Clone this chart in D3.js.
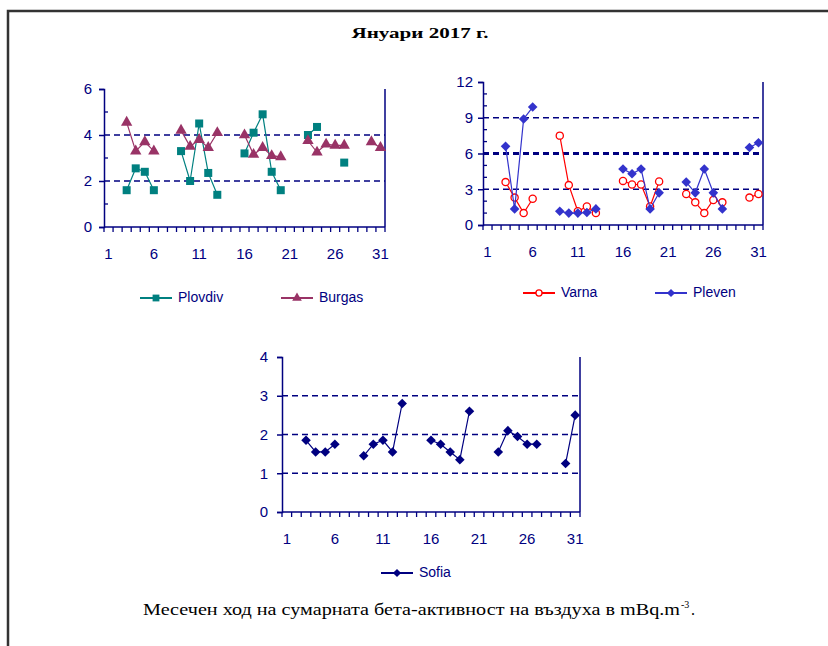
<!DOCTYPE html>
<html><head><meta charset="utf-8">
<script src="https://cdn.jsdelivr.net/npm/d3@7"></script>
<style>body{margin:0;background:#fff}svg{display:block}</style>
</head><body>
<script>
const days = [1,2,3,4,5,6,7,8,9,10,11,12,13,14,15,16,17,18,19,20,21,22,23,24,25,26,27,28,29,30,31];
const xTickLabels = ["1","6","11","16","21","26","31"];
const plovdiv = [null,null,1.6,2.55,2.4,1.6,null,null,3.3,2.0,4.5,2.35,1.4,null,null,3.2,4.1,4.9,2.4,1.6,null,null,4.0,4.35,null,null,2.8,null,null,null,null];
const burgas  = [null,null,4.55,3.3,3.7,3.3,null,null,4.2,3.5,3.8,3.45,4.1,null,null,4.0,3.15,3.45,3.1,3.05,null,null,3.75,3.25,3.6,3.55,3.55,null,null,3.7,3.45];
const varna   = [null,null,3.6,2.3,1.0,2.2,null,null,7.5,3.35,1.15,1.55,1.0,null,null,3.7,3.4,3.4,1.55,3.65,null,null,2.6,1.9,1.0,2.1,1.9,null,null,2.3,2.6];
const pleven  = [null,null,6.6,1.35,8.9,9.9,null,null,1.15,1.0,1.0,1.05,1.35,null,null,4.7,4.3,4.7,1.35,2.7,null,null,3.6,2.7,4.7,2.7,1.35,null,null,6.5,6.9];
const sofia   = [null,null,1.85,1.55,1.55,1.75,null,null,1.45,1.75,1.85,1.55,2.8,null,null,1.85,1.75,1.55,1.35,2.6,null,null,1.55,2.1,1.95,1.75,1.75,null,null,1.25,2.5];
const yTicks1 = [0,2,4,6];
const yTicks2 = [0,3,6,9,12];
const yTicks3 = [0,1,2,3,4];
const titleText = "Януари 2017 г.";
const captionText = "Месечен ход на сумарната бета-активност на въздуха в mBq.m";

const W = 828, H = 646;
const NAVY = "#000080";
const svg = d3.select("body").append("svg").attr("width", W).attr("height", H);

// frame
svg.append("path").attr("d", `M8,${H} L8,11 L${W},11`).attr("fill","none").attr("stroke","#333").attr("stroke-width",2.5);

svg.append("text").attr("x", 420).attr("y", 38).attr("text-anchor","middle")
  .attr("font-family","'Liberation Serif','Times New Roman',serif").attr("font-weight","bold").attr("font-size",15)
  .attr("textLength",137).attr("lengthAdjust","spacingAndGlyphs").text(titleText);

function marker(g, type, x, y, color, small) {
  const s = small ? 0.85 : 1;
  if (type === "square") {
    g.append("rect").attr("x", x-4*s).attr("y", y-4*s).attr("width",8*s).attr("height",8*s).attr("fill",color);
  } else if (type === "triangle") {
    g.append("path").attr("d", d3.symbol().type(d3.symbolTriangle).size(56*s*s)()).attr("transform",`translate(${x},${y})`).attr("fill",color);
  } else if (type === "circle") {
    g.append("circle").attr("cx",x).attr("cy",y).attr("r",3.6*s).attr("fill","#fff").attr("stroke",color).attr("stroke-width",1.3);
  } else if (type === "diamond") {
    const r = 4.8*s;
    g.append("path").attr("d", `M${x},${y-r}L${x+r},${y}L${x},${y+r}L${x-r},${y}Z`).attr("fill",color);
  }
}

function panel(cfg) {
  const g = svg.append("g");
  const x = d3.scaleBand().domain(days).range([cfg.x0, cfg.x1]).padding(0);
  const y = d3.scaleLinear().domain([0, cfg.yMax]).range([cfg.yb, cfg.yt]);
  const cx = d => x(d) + x.bandwidth()/2;

  cfg.grid.forEach(v => {
    g.append("line").attr("x1",cfg.x0).attr("x2",cfg.x1).attr("y1",y(v)).attr("y2",y(v))
      .attr("stroke",NAVY).attr("stroke-width", cfg.boldGrid === v ? 3 : 1.4).attr("stroke-dasharray","6,4");
  });
  g.append("line").attr("x1",cfg.x1).attr("x2",cfg.x1).attr("y1",cfg.yt).attr("y2",cfg.yb).attr("stroke",NAVY).attr("stroke-width",1.5);

  const ya = d3.axisLeft(y).tickValues(cfg.yTicks).tickSize(5).tickFormat(d3.format("d"));
  const yg = g.append("g").attr("transform",`translate(${cfg.x0},0)`).call(ya);
  yg.select(".domain").attr("stroke",NAVY).attr("stroke-width",1.5);
  yg.selectAll(".tick line").attr("stroke",NAVY).attr("stroke-width",1.5);
  yg.selectAll(".tick text").attr("fill",NAVY).attr("font-family","'Liberation Sans',Arial,sans-serif").attr("font-size",15)
    .attr("x", -cfg.yLabOff);
  if (cfg.minor) {
    cfg.minor.forEach(v => g.append("line").attr("x1",cfg.x0).attr("x2",cfg.x0+4).attr("y1",y(v)).attr("y2",y(v)).attr("stroke",NAVY).attr("stroke-width",1.3));
  }

  g.append("line").attr("x1",cfg.x0).attr("x2",cfg.x1).attr("y1",cfg.yb).attr("y2",cfg.yb).attr("stroke",NAVY).attr("stroke-width",1.5);
  days.forEach(d => {
    g.append("line").attr("x1",x(d)).attr("x2",x(d)).attr("y1",cfg.yb).attr("y2",cfg.yb+5).attr("stroke",NAVY).attr("stroke-width",1.3);
  });
  g.append("line").attr("x1",cfg.x1).attr("x2",cfg.x1).attr("y1",cfg.yb).attr("y2",cfg.yb+5).attr("stroke",NAVY).attr("stroke-width",1.3);
  xTickLabels.forEach(t => {
    g.append("text").attr("x", cx(+t)).attr("y", cfg.yb + 28).attr("text-anchor","middle").attr("dominant-baseline","middle")
      .attr("fill",NAVY).attr("font-family","'Liberation Sans',Arial,sans-serif").attr("font-size",15).text(t);
  });

  cfg.series.forEach(s => {
    const pts = days.map((d,i) => ({d, v: s.values[i]}));
    const line = d3.line().defined(p => p.v != null).x(p => cx(p.d)).y(p => y(p.v));
    g.append("path").attr("d", line(pts)).attr("fill","none").attr("stroke",s.color).attr("stroke-width",1.2);
    pts.filter(p => p.v != null).forEach(p => marker(g, s.marker, cx(p.d), y(p.v), s.color));
  });

  cfg.legend.forEach((L, i) => {
    const s = cfg.series[i];
    g.append("line").attr("x1",L.x).attr("x2",L.x+32).attr("y1",L.y).attr("y2",L.y).attr("stroke",s.color).attr("stroke-width",2);
    marker(g, s.marker, L.x+16, L.y, s.color, true);
    g.append("text").attr("x", L.x+38).attr("y", L.y).attr("dominant-baseline","middle")
      .attr("fill",NAVY).attr("font-family","'Liberation Sans',Arial,sans-serif").attr("font-size",14).text(s.name);
  });
}

panel({x0:104, x1:385, yt:89, yb:227, yMax:6, yTicks:yTicks1, grid:[2,4], minor:[1,3,5], yLabOff:12,
  series:[{name:"Plovdiv", values:plovdiv, color:"#008080", marker:"square"},
          {name:"Burgas", values:burgas, color:"#993366", marker:"triangle"}],
  legend:[{x:140,y:298},{x:281,y:298}]});

panel({x0:483, x1:763, yt:82, yb:225, yMax:12, yTicks:yTicks2, grid:[3,6,9], boldGrid:6, minor:[1,2,4,5,7,8,10,11], yLabOff:10,
  series:[{name:"Varna", values:varna, color:"#FF0000", marker:"circle"},
          {name:"Pleven", values:pleven, color:"#3333CC", marker:"diamond"}],
  legend:[{x:523,y:293},{x:655,y:293}]});

panel({x0:282, x1:580, yt:357, yb:512, yMax:4, yTicks:yTicks3, grid:[1,2,3], yLabOff:14,
  series:[{name:"Sofia", values:sofia, color:NAVY, marker:"diamond"}],
  legend:[{x:381,y:573}]});

// caption
const capFont = "'Liberation Serif','Times New Roman',serif";
svg.append("text").attr("x", 143).attr("y", 615).attr("font-family",capFont).attr("font-size",16)
  .attr("textLength",537).attr("lengthAdjust","spacingAndGlyphs").text(captionText);
svg.append("text").attr("x", 681).attr("y", 608).attr("font-family",capFont).attr("font-size",10).text("-3");
svg.append("text").attr("x", 691).attr("y", 615).attr("font-family",capFont).attr("font-size",16).text(".");
</script>
</body></html>
